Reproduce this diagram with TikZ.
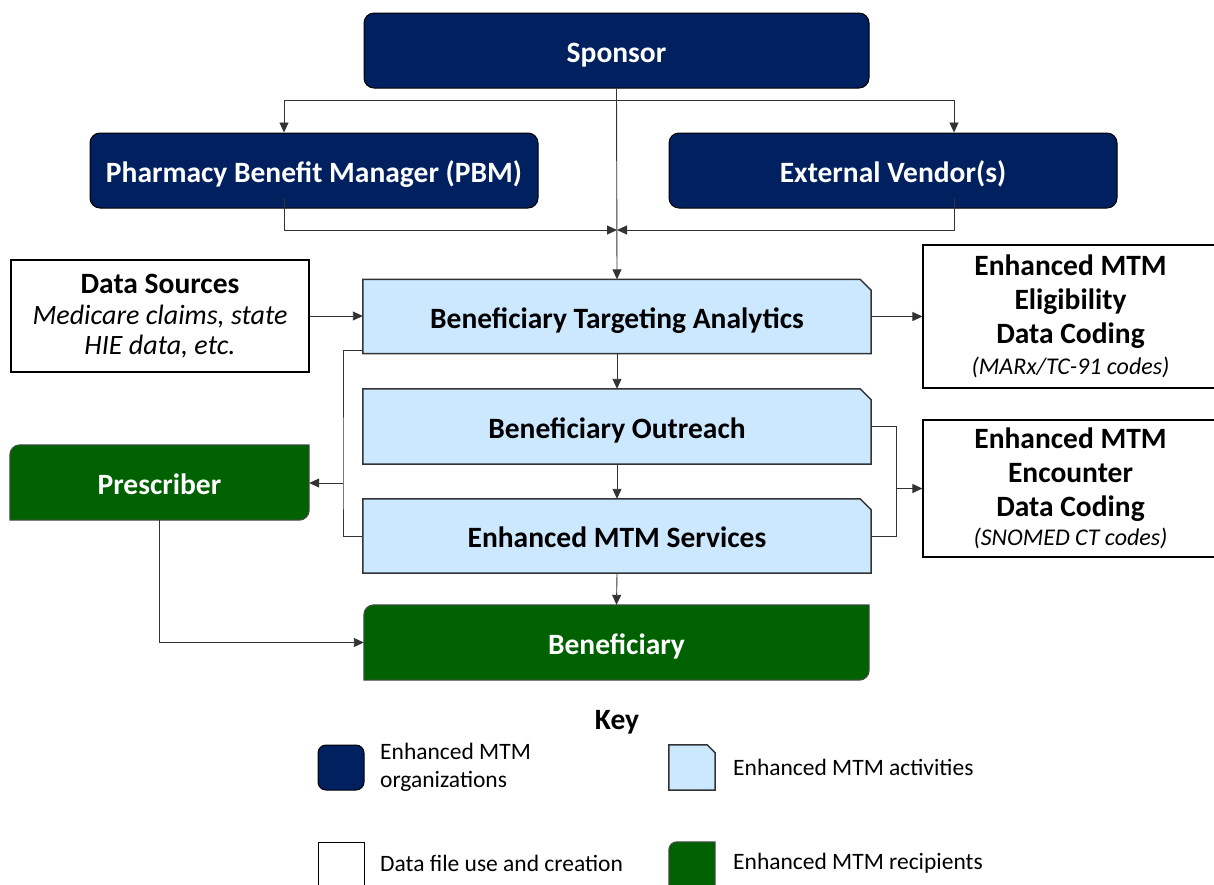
\documentclass[tikz,border=0pt]{standalone}
\usepackage{fontspec}
\setmainfont{Carlito}
\usetikzlibrary{arrows.meta,backgrounds,calc}
\definecolor{navy}{HTML}{002060}
\definecolor{lblue}{HTML}{CCE8FF}
\definecolor{dgreen}{HTML}{006100}
\newcommand\actbox[2]{\filldraw[actshape] (#1.south west) -- (#1.north west) -- ([xshift=-#2]#1.north east) -- ([yshift=-#2]#1.north east) -- (#1.south east) -- cycle;}
\newcommand\rcpbox[2]{\filldraw[rcpshape] (#1.south west) -- ([yshift=-#2]#1.north west) arc[start angle=180,end angle=90,radius=#2] -- (#1.north east) -- ([yshift=#2]#1.south east) arc[start angle=0,end angle=-90,radius=#2] -- cycle;}
\begin{document}
\begin{tikzpicture}[x=1pt,y=1pt,
  big/.style={font=\fontsize{29.5}{35}\selectfont\bfseries, text height=23pt, text depth=0pt},
  org/.style={big, draw=black, line width=1pt, fill=navy, text=white, rounded corners=10pt, minimum height=75pt, inner sep=0pt},
  act/.style={big, minimum width=508pt, minimum height=74pt, inner sep=0pt},
  actshape/.style={fill=lblue, draw=black!80, line width=1.5pt},
  rcp/.style={big, text=white, minimum height=75pt, inner sep=0pt},
  rcpshape/.style={fill=dgreen, draw=black!70, line width=1pt},
  datab/.style={draw=black, line width=1.2pt, fill=white, align=center, inner sep=0pt, font=\fontsize{28}{34}\selectfont},
  conn/.style={draw=black!80, line width=0.9pt},
  arr/.style={conn, -{Triangle[length=10pt,width=9pt]}},
  keyt/.style={font=\fontsize{23.5}{28}\selectfont, anchor=west, align=left, inner sep=0pt}
]
\useasboundingbox (0,0) rectangle (1214,-884);

% organizations
\node[org, minimum width=505pt] (SP) at (616.5,-50.5) {Sponsor};
\node[org, minimum width=448pt] (PBM) at (314,-170.5) {Pharmacy Benefit Manager (PBM)};
\node[org, minimum width=448pt] (EV) at (893,-170.5) {External Vendor(s)};

% activities
\node[act] (BTA) at (617,-316.5) {Beneficiary Targeting Analytics};
\node[act, minimum height=75pt] (OUT) at (617,-426.5) {Beneficiary Outreach};
\node[act] (SV) at (617,-536) {Enhanced MTM Services};

% recipients
\node[rcp, minimum width=505pt] (BEN) at (616.5,-642.5) {Beneficiary};
\node[rcp, minimum width=299pt] (PR) at (159.5,-482.5) {Prescriber};

% data boxes
\node[datab, minimum width=298pt, minimum height=112pt] (DS) at (160,-316)
  {{\fontsize{29.5}{35}\selectfont\bfseries Data Sources}\\[-3pt] {\itshape Medicare claims, state}\\[-4pt] {\itshape HIE data, etc.}};
\node[datab, minimum width=295pt, minimum height=143pt] (EL) at (1070.5,-316.5)
  {{\fontsize{29.5}{35}\selectfont\bfseries Enhanced MTM}\\ {\fontsize{29.5}{35}\selectfont\bfseries Eligibility}\\ {\fontsize{29.5}{35}\selectfont\bfseries Data Coding}\\[-3pt] {\fontsize{24}{28}\selectfont\itshape (MARx/TC-91 codes)}};
\node[datab, minimum width=295pt, minimum height=137pt] (EN) at (1070.5,-488.5)
  {{\fontsize{29.5}{35}\selectfont\bfseries Enhanced MTM}\\ {\fontsize{29.5}{35}\selectfont\bfseries Encounter}\\ {\fontsize{29.5}{35}\selectfont\bfseries Data Coding}\\[-5pt] {\fontsize{24}{28}\selectfont\itshape (SNOMED CT codes)}};

% key
\node[big] (KEY) at (617,-718) {Key};
\node[draw=black, line width=1pt, fill=navy, rounded corners=8pt, minimum width=46pt, minimum height=45pt, inner sep=0pt] (K1) at (341,-767.5) {};
\node[minimum width=46pt, minimum height=45pt, inner sep=0pt] (K2) at (692,-767.5) {};
\node[draw=black, line width=1pt, fill=white, minimum width=46pt, minimum height=52pt, inner sep=0pt] (K3) at (341,-868) {};
\node[minimum width=46pt, minimum height=52pt, inner sep=0pt] (K4) at (692,-868) {};
\node[keyt] (K1t) at (380,-767) {Enhanced MTM\\organizations};
\node[keyt] (K2t) at (733,-767) {Enhanced MTM activities};
\node[keyt] (K3t) at (380,-863) {Data file use and creation};
\node[keyt] (K4t) at (733,-863) {Enhanced MTM recipients};

\begin{scope}[on background layer]
  \fill[white] (0,0) rectangle (1214,-884);
  \actbox{BTA}{11pt}
  \actbox{OUT}{11pt}
  \actbox{SV}{11pt}
  \actbox{K2}{8pt}
  \rcpbox{BEN}{10pt}
  \rcpbox{PR}{10pt}
  \rcpbox{K4}{8pt}
\end{scope}

% connectors
\coordinate (sL) at (284,-100);
\coordinate (sR) at (954,-100);
\coordinate (mg) at (617,-230);
\coordinate (lb) at (343,-483);
\coordinate (rb) at (896,-488.5);
\draw[arr] (SP.south) -- (BTA.north);
\draw[conn] (sL) -- (sR);
\draw[arr] (sL) -- (sL |- PBM.north);
\draw[arr] (sR) -- (sR |- EV.north);
\draw[arr] ([yshift=11pt]PBM.south -| sL) |- (mg);
\draw[arr] ([yshift=11pt]EV.south -| sR) |- (mg);
\draw[arr] (DS.east) -- (DS.east -| BTA.west);
\draw[arr] (BTA.east) -- (BTA.east -| EL.west);
\draw[arr] (BTA.south) -- (OUT.north);
\draw[arr] (OUT.south) -- (SV.north);
\draw[arr] (SV.south) -- (BEN.north);
\draw[conn] ([yshift=3pt]BTA.south west) -| (lb) |- (SV.west);
\draw[arr] (lb) -- (lb -| PR.east);
\draw[conn] (OUT.east) -| (rb) |- (SV.east);
\draw[arr] (rb) -- (rb -| EN.west);
\draw[arr] (PR.south) |- (BEN.west);
\end{tikzpicture}
\end{document}
